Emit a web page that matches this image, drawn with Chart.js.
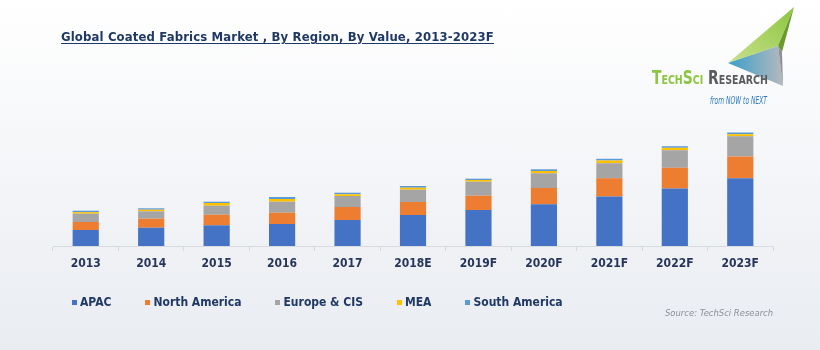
<!DOCTYPE html>
<html lang="en">
<head>
<meta charset="UTF-8">
<title>Global Coated Fabrics Market</title>
<script src="https://cdn.jsdelivr.net/npm/chart.js"></script>
<style>
  body { margin: 0; }
  #wrap {
    position: relative; width: 820px; height: 350px; overflow: hidden;
    background: linear-gradient(180deg, #ffffff 0%, #f7f8fa 35%, #e9ecf1 100%);
    font-family: "DejaVu Sans Condensed", "DejaVu Sans", sans-serif;
  }
  #chart { position: absolute; left: 0; top: 0; }
  .title {
    position: absolute; left: 61px; top: 29px; white-space: nowrap;
    font-weight: bold; font-size: 13px; color: #1f3864; letter-spacing: 0.13px;
    text-decoration: underline; text-underline-offset: 2px;
  }
  #legend {
    position: absolute; left: 72px; top: 295px; display: flex; align-items: center;
    font-weight: bold; font-size: 12px; color: #1f3864; white-space: nowrap;
  }
  #legend .item { display: flex; align-items: center; margin-right: 34px; }
  #legend .box { width: 5px; height: 5px; margin-right: 3px; }
  .source {
    position: absolute; left: 665px; top: 307px; font-size: 9.4px;
    font-style: italic; color: #8b9099; white-space: nowrap;
  }
  #logo { position: absolute; left: 600px; top: 0; }
</style>
</head>
<body>
<div id="wrap">
  <canvas id="chart" width="820" height="350"></canvas>
  <div class="title">Global Coated Fabrics Market , By Region, By Value, 2013-2023F</div>

  <!-- логотип -->
  <svg id="logo" width="220" height="120" viewBox="0 0 220 120">
    <defs>
      <linearGradient id="g1" x1="0" y1="1" x2="1" y2="0">
        <stop offset="0" stop-color="#c9e08e"/>
        <stop offset="1" stop-color="#8cc63e"/>
      </linearGradient>
      <linearGradient id="g2" x1="0" y1="0" x2="1" y2="0">
        <stop offset="0" stop-color="#3a9fc9"/>
        <stop offset="1" stop-color="#b4b9be"/>
      </linearGradient>
    </defs>
    <polygon points="194,7 128,63 178,46" fill="url(#g1)"/>
    <polygon points="194,7 178,46 182,52" fill="#6a9a2c"/>
    <polygon points="128,63 178,46 183,86" fill="url(#g2)"/>
    <polygon points="178,46 182,52 183,86" fill="#8d9297"/>
    <text x="52" y="84" font-family="DejaVu Sans Condensed, DejaVu Sans" font-size="19" font-weight="bold"
          style="font-variant: small-caps" textLength="116" lengthAdjust="spacingAndGlyphs"><tspan fill="#8cc63e">TechSci</tspan><tspan fill="#5a5b5d"> Research</tspan></text>
    <text x="110" y="104" font-family="DejaVu Sans Condensed, DejaVu Sans" font-size="10" font-style="italic"
          fill="#2e7bbf" textLength="57" lengthAdjust="spacingAndGlyphs">from NOW to NEXT</text>
  </svg>

  <div id="legend"></div>
  <div class="source">Source: TechSci Research</div>
</div>

<script>
  // данные (относительные величины, оси Y нет)
  const years = ['2013', '2014', '2015', '2016', '2017', '2018E', '2019F', '2020F', '2021F', '2022F', '2023F'];
  const apac = [16, 18.3, 20.7, 22, 26, 31, 36, 41.7, 49.5, 57.5, 67.8];
  const northAmerica = [8, 9, 10.6, 11.3, 13, 13, 14.3, 16.3, 18.3, 20.7, 21.7];
  const europeCis = [8.3, 7.4, 9, 11, 11, 12.3, 14, 14.7, 15, 17.6, 20.3];
  const mea = [1.5, 1.6, 2.7, 2.7, 1.7, 2, 1.7, 2.3, 2.7, 2.4, 2];
  const southAmerica = [1.5, 1.4, 1.3, 2, 1.6, 1.7, 1.3, 1.7, 1.7, 1.6, 1.7];

  const seriesNames = ['APAC', 'North America', 'Europe & CIS', 'MEA', 'South America'];
  const seriesValues = [apac, northAmerica, europeCis, mea, southAmerica];
  const seriesColors = ['#4472c4', '#ed7d31', '#a5a5a5', '#ffc000', '#5b9bd5'];

  // легенда
  const legend = document.getElementById('legend');
  seriesNames.forEach((name, i) => {
    const item = document.createElement('div');
    item.className = 'item';
    item.innerHTML = '<span class="box" style="background:' + seriesColors[i] + '"></span>' + name;
    legend.appendChild(item);
  });

  const ctx = document.getElementById('chart').getContext('2d');
  new Chart(ctx, {
    type: 'bar',
    data: {
      labels: years,
      datasets: seriesNames.map((name, i) => ({
        label: name,
        data: seriesValues[i],
        backgroundColor: seriesColors[i],
        borderWidth: 0,
        barPercentage: 0.8,
        categoryPercentage: 0.5
      }))
    },
    options: {
      responsive: false,
      animation: false,
      layout: { padding: { left: 53, right: 47, top: 116, bottom: 0 } },
      plugins: {
        legend: { display: false },
        tooltip: { enabled: false }
      },
      scales: {
        x: {
          stacked: true,
          afterFit: (axis) => { axis.height = 104; },
          grid: { drawOnChartArea: false, color: '#d6d9de', tickLength: 5 },
          border: { color: '#d6d9de' },
          ticks: {
            padding: 6,
            color: '#26355a',
            font: { family: '"DejaVu Sans Condensed", "DejaVu Sans"', weight: 'bold', size: 12 }
          }
        },
        y: {
          stacked: true,
          display: false,
          min: 0,
          max: 130
        }
      }
    }
  });
</script>
</body>
</html>
